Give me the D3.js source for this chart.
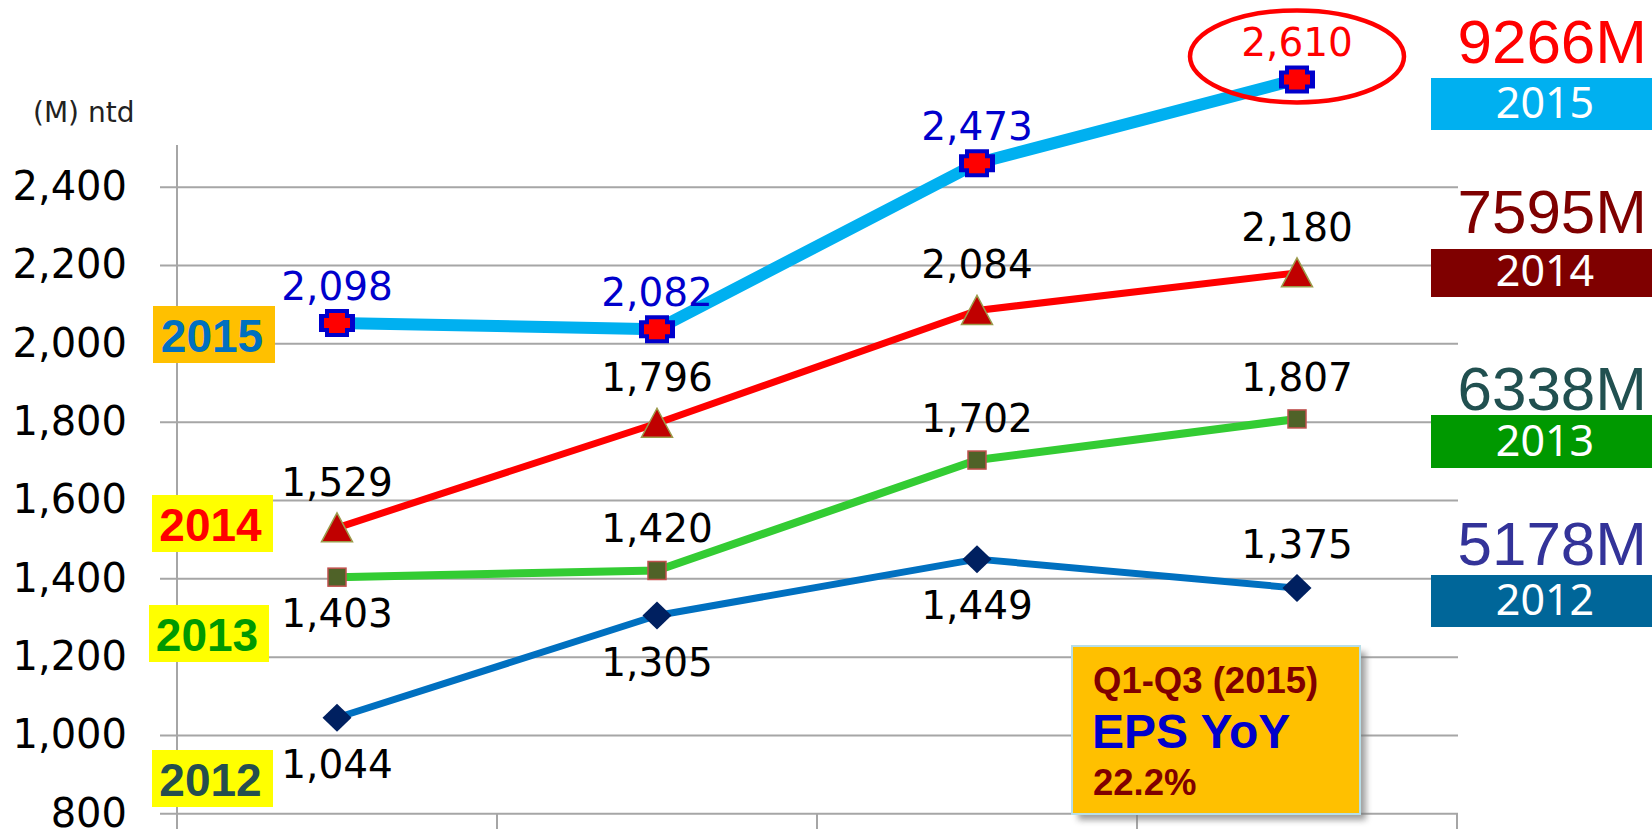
<!DOCTYPE html>
<html>
<head>
<meta charset="utf-8">
<script src="https://cdn.jsdelivr.net/npm/d3@7"></script>
<style>
body { margin: 0; background: #fff; }
</style>
</head>
<body>
<div id="chart"></div>
<script>
"use strict"

let svgWidth = 1652
let svgHeight = 829

/* data */
let quarters = ["Q1", "Q2", "Q3", "Q4"]
let yTicks = [800, 1000, 1200, 1400, 1600, 1800, 2000, 2200, 2400]

let eps2012 = [1044, 1305, 1449, 1375]
let eps2013 = [1403, 1420, 1702, 1807]
let eps2014 = [1529, 1796, 2084, 2180]
// 2015 labels were typed over the chart, the points sit a little off them
let eps2015 = [2098, 2082, 2473, 2610]
let plot2015 = [2052, 2036, 2460, 2674]

let side2012 = ["below", "below", "below", "above"]
let side2013 = ["below", "above", "above", "above"]
let side2014 = ["above", "above", "above", "above"]
let side2015 = ["above", "above", "above", "above"]

let years = ["2015", "2014", "2013", "2012"]
let yearTotals = ["9266M", "7595M", "6338M", "5178M"]

let boxTitle = "Q1-Q3 (2015)"
let boxMain = "EPS YoY"
let boxValue = "22.2%"

/* svg */
let svg = d3.select("#chart")
    .append("svg")
    .attr("width", svgWidth)
    .attr("height", svgHeight)
    .style("font-family", "'DejaVu Sans', Verdana, sans-serif")

let filt = svg.append("defs").append("filter")
    .attr("id", "shadow")
    .attr("x", "-10%").attr("y", "-10%")
    .attr("width", "130%").attr("height", "130%")
filt.append("feGaussianBlur").attr("stdDeviation", 3)

/* scales */
let xScale = d3.scaleBand()
    .domain(quarters)
    .range([177, 1457])

let yScale = d3.scaleLinear()
    .domain([800, 2400])
    .range([813.3, 186.7])

let cx = q => xScale(q) + xScale.bandwidth() / 2

/* y axis with grid */
let yAxis = svg.append("g")
    .attr("transform", "translate(177,0)")
    .call(d3.axisLeft(yScale)
        .tickValues(yTicks)
        .tickFormat(d3.format(","))
        .tickSize(0)
        .tickPadding(50))

yAxis.select(".domain").remove()
yAxis.selectAll(".tick line")
    .attr("x1", -17)
    .attr("x2", 1281)
    .attr("stroke", "#a6a6a6")
    .attr("stroke-width", 2)
yAxis.selectAll(".tick text")
    .attr("font-size", 40)
    .attr("font-family", "'DejaVu Sans', Verdana, sans-serif")
    .attr("fill", "#000")

svg.append("line")
    .attr("x1", 177).attr("x2", 177)
    .attr("y1", 145).attr("y2", 829)
    .attr("stroke", "#a6a6a6")
    .attr("stroke-width", 2)

/* x axis tick marks at the band edges */
let edges = quarters.map(q => xScale(q)).concat([xScale.range()[1]])
svg.selectAll(".xtick")
    .data(edges)
    .join("line")
    .attr("class", "xtick")
    .attr("x1", d => d).attr("x2", d => d)
    .attr("y1", 813).attr("y2", 829)
    .attr("stroke", "#a6a6a6")
    .attr("stroke-width", 2)

svg.append("text")
    .attr("x", 33)
    .attr("y", 122)
    .attr("font-size", 28)
    .attr("fill", "#222")
    .text("(M) ntd")

/* series */
let series = [
    {labels: eps2012, plot: eps2012, side: side2012, line: "#0070C0", width: 7, marker: "diamond",
     labelColor: "#000", above: -30, below: 60},
    {labels: eps2013, plot: eps2013, side: side2013, line: "#33CC33", width: 8, marker: "square",
     labelColor: "#000", above: -28, below: 50},
    {labels: eps2014, plot: eps2014, side: side2014, line: "#FF0000", width: 7, marker: "triangle",
     labelColor: "#000", above: -32, below: 50},
    {labels: eps2015, plot: plot2015, side: side2015, line: "#00B0F0", width: 12, marker: "cross",
     labelColor: "#0000CC", above: -23, below: 50}
]

let line = d3.line()
    .x((d, i) => cx(quarters[i]))
    .y(d => yScale(d))

series.forEach(function(s) {
    svg.append("path")
        .attr("d", line(s.plot))
        .attr("fill", "none")
        .attr("stroke", s.line)
        .attr("stroke-width", s.width)
        .attr("stroke-linejoin", "round")
})

series.forEach(function(s) {
    let g = svg.selectAll(null)
        .data(s.plot)
        .join("g")
        .attr("transform", (d, i) => "translate(" + cx(quarters[i]) + "," + yScale(d) + ")")

    if (s.marker == "diamond") {
        g.append("path")
            .attr("d", "M0,-14L14.5,0L0,14L-14.5,0Z")
            .attr("fill", "#002060")
    }
    else if (s.marker == "square") {
        g.append("rect")
            .attr("x", -9).attr("y", -9)
            .attr("width", 18).attr("height", 18)
            .attr("fill", "#4F6228")
            .attr("stroke", "#C0504D")
            .attr("stroke-width", 1.5)
    }
    else if (s.marker == "triangle") {
        g.append("path")
            .attr("d", "M0,-15L15.5,14L-15.5,14Z")
            .attr("fill", "#C00000")
            .attr("stroke", "#9B9B4B")
            .attr("stroke-width", 1.5)
    }
    else {
        g.append("path")
            .attr("d", "M-12,-14H12V-9H18V9H12V14H-12V9H-18V-9H-12Z")
            .attr("fill", "#0000CC")
        g.append("path")
            .attr("d", "M-8,-10H8V-5H13V5H8V10H-8V5H-13V-5H-8Z")
            .attr("fill", "#FF0000")
    }
})

/* value labels */
let highlight = 3
series.forEach(function(s, si) {
    svg.selectAll(null)
        .data(s.labels)
        .join("text")
        .attr("x", (d, i) => cx(quarters[i]))
        .attr("y", (d, i) => yScale(s.plot[i]) + (s.side[i] == "above" ? s.above : s.below))
        .attr("text-anchor", "middle")
        .attr("font-size", 39)
        .attr("fill", (d, i) => (si == 3 && i == highlight) ? "#FF0000" : s.labelColor)
        .text(d => d3.format(",")(d))
})

/* red ellipse round the last 2015 value */
svg.append("ellipse")
    .attr("cx", cx(quarters[highlight]))
    .attr("cy", yScale(plot2015[highlight]) - 23)
    .attr("rx", 107)
    .attr("ry", 46)
    .attr("fill", "none")
    .attr("stroke", "#FF0000")
    .attr("stroke-width", 4.5)

/* year tags at the left */
let leftTags = [
    {x: 153, y: 306, w: 122, fill: "#FFC000", color: "#0070C0"},
    {x: 152, y: 495, w: 121, fill: "#FFFF00", color: "#FF0000"},
    {x: 149, y: 605, w: 120, fill: "#FFFF00", color: "#009900"},
    {x: 152, y: 750, w: 121, fill: "#FFFF00", color: "#254E4E"}
]
leftTags.forEach(function(t, i) {
    svg.append("rect")
        .attr("x", t.x).attr("y", t.y)
        .attr("width", t.w).attr("height", 57)
        .attr("fill", t.fill)
    svg.append("text")
        .attr("x", t.x + t.w / 2 - 2)
        .attr("y", t.y + 46)
        .attr("text-anchor", "middle")
        .attr("font-family", "'Liberation Sans', Arial, sans-serif")
        .attr("font-weight", "bold")
        .attr("font-size", 46)
        .attr("fill", t.color)
        .text(years[i])
})

/* totals at the right */
let rightTags = [
    {top: 78, h: 52, fill: "#00B0F0", color: "#FF0000"},
    {top: 249, h: 48, fill: "#7F0000", color: "#7F0000"},
    {top: 415, h: 53, fill: "#009900", color: "#215050"},
    {top: 575, h: 52, fill: "#006699", color: "#333399"}
]
let totalBase = [63, 233, 410, 565]
rightTags.forEach(function(t, i) {
    svg.append("text")
        .attr("x", 1647)
        .attr("y", totalBase[i])
        .attr("text-anchor", "end")
        .attr("font-family", "'Liberation Sans', Arial, sans-serif")
        .attr("font-size", 62)
        .attr("fill", t.color)
        .text(yearTotals[i])
    svg.append("rect")
        .attr("x", 1431).attr("y", t.top)
        .attr("width", 230).attr("height", t.h)
        .attr("fill", t.fill)
    svg.append("text")
        .attr("x", 1545)
        .attr("y", t.top + t.h * 0.77)
        .attr("text-anchor", "middle")
        .attr("font-family", "'Noto Sans', 'Open Sans', sans-serif")
        .attr("font-size", 43)
        .attr("fill", "#fff")
        .text(years[i])
})

/* EPS box */
svg.append("rect")
    .attr("x", 1078).attr("y", 652)
    .attr("width", 288).attr("height", 168)
    .attr("fill", "#777")
    .attr("opacity", 0.7)
    .attr("filter", "url(#shadow)")
svg.append("rect")
    .attr("x", 1072).attr("y", 646)
    .attr("width", 288).attr("height", 168)
    .attr("fill", "#FFC000")
    .attr("stroke", "#B7DEE8")
    .attr("stroke-width", 2)

let boxFont = "'Liberation Sans', Arial, sans-serif"
svg.append("text")
    .attr("x", 1093).attr("y", 693)
    .attr("font-family", boxFont)
    .attr("font-weight", "bold")
    .attr("font-size", 36.5)
    .attr("fill", "#7F0000")
    .text(boxTitle)
svg.append("text")
    .attr("x", 1092).attr("y", 748)
    .attr("font-family", boxFont)
    .attr("font-weight", "bold")
    .attr("font-size", 48)
    .attr("fill", "#0000CC")
    .text(boxMain)
svg.append("text")
    .attr("x", 1093).attr("y", 795)
    .attr("font-family", boxFont)
    .attr("font-weight", "bold")
    .attr("font-size", 36.5)
    .attr("fill", "#7F0000")
    .text(boxValue)
</script>
</body>
</html>
